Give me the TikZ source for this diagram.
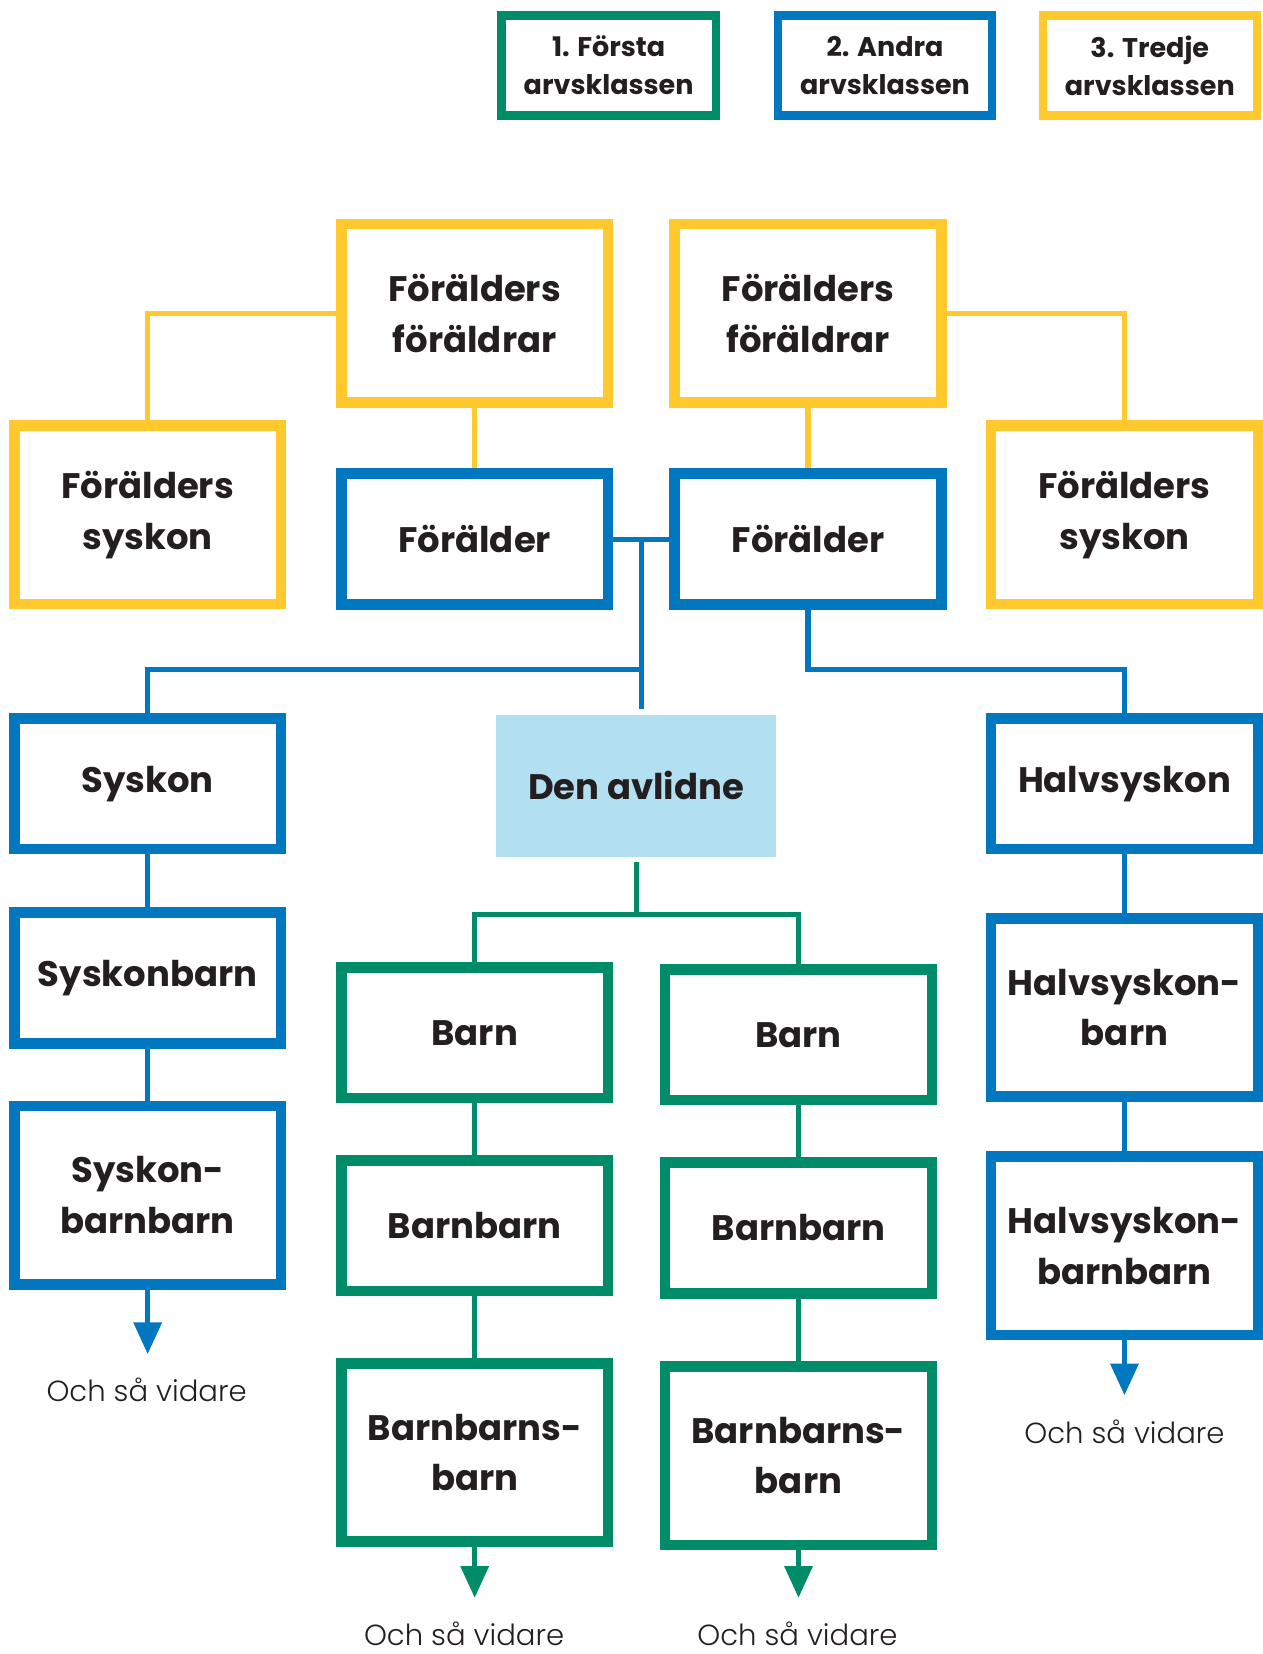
\documentclass[tikz,border=0pt]{standalone}
\usepackage{fontspec}
\setmainfont{Poppins}
\newfontfamily\lightfont{Poppins Light}
\usetikzlibrary{arrows.meta}

\definecolor{arvgreen}{RGB}{0,140,104}
\definecolor{arvblue}{RGB}{0,119,190}
\definecolor{arvyellow}{RGB}{255,200,44}
\definecolor{avlblue}{RGB}{178,224,240}
\definecolor{textdark}{RGB}{35,31,32}

\begin{document}
\begin{tikzpicture}[x=0.5pt,y=-0.5pt]
    \useasboundingbox (0,0) rectangle (1197,1568);
    \tikzstyle{every node}=[rectangle, fill=white, line width=5pt, inner sep=0pt, align=center, text=textdark, font=\fontsize{16.8}{24}\selectfont\bfseries, minimum width=126.5pt, minimum height=62pt]
    \tikzstyle{tall}=[minimum height=84.5pt]
    \tikzstyle{legend}=[line width=4pt, minimum width=101.5pt, minimum height=47.5pt, font=\fontsize{12.8}{18}\selectfont\bfseries]
    \tikzstyle{etc}=[draw=none, fill=none, minimum width=0pt, minimum height=0pt, font=\lightfont\fontsize{13.8}{17}\selectfont]

    % legend
    \node[legend, draw=arvgreen] (first) at (577,62) {1. Första\\arvsklassen};
    \node[legend, draw=arvblue] (second) at (839,62) {2. Andra\\arvsklassen};
    \node[legend, draw=arvyellow] (third) at (1090,62) {3. Tredje\\arvsklassen};

    % third class
    \node[tall, draw=arvyellow] (ffl) at (450,297) {Förälders\\föräldrar};
    \node[tall, draw=arvyellow] (ffr) at (766,297) {Förälders\\föräldrar};
    \node[tall, draw=arvyellow] (fsl) at (140,488) {Förälders\\syskon};
    \node[tall, draw=arvyellow] (fsr) at (1066,488) {Förälders\\syskon};

    % second class
    \node[draw=arvblue] (fl) at (450,511) {Förälder};
    \node[draw=arvblue] (fr) at (766,511) {Förälder};
    \node[draw=arvblue] (sys) at (140,743) {Syskon};
    \node[draw=arvblue] (sb) at (140,927) {Syskonbarn};
    \node[tall, draw=arvblue] (sbb) at (140,1133) {Syskon-\\barnbarn};
    \node[draw=arvblue] (hs) at (1066,743) {Halvsyskon};
    \node[tall, draw=arvblue] (hsb) at (1066,955) {Halvsyskon-\\barn};
    \node[tall, draw=arvblue] (hsbb) at (1066,1181) {Halvsyskon-\\barnbarn};

    \node[draw=none, fill=avlblue, minimum width=132.5pt, minimum height=67.5pt] (avl) at (603,745) {Den avlidne};

    % first class
    \node[draw=arvgreen] (bl) at (450,979) {Barn};
    \node[draw=arvgreen] (br) at (757,981) {Barn};
    \node[draw=arvgreen] (bbl) at (450,1162) {Barnbarn};
    \node[draw=arvgreen] (bbr) at (757,1164) {Barnbarn};
    \node[tall, draw=arvgreen] (bbbl) at (450,1377) {Barnbarns-\\barn};
    \node[tall, draw=arvgreen] (bbbr) at (757,1380) {Barnbarns-\\barn};

    \node[etc] (etcs) at (139,1318) {Och så vidare};
    \node[etc] (etch) at (1066,1357) {Och så vidare};
    \node[etc] (etcl) at (440,1549) {Och så vidare};
    \node[etc] (etcr) at (756,1549) {Och så vidare};

    \tikzstyle{yline}=[arvyellow, line width=2.5pt]
    \draw[yline] (ffl.west) -| (fsl.north);
    \draw[yline] (ffl.south) -- (fl.north);
    \draw[yline] (ffr.east) -| (fsr.north);
    \draw[yline] (ffr.south) -- (fr.north);

    \tikzstyle{bline}=[arvblue, line width=2.4pt]
    \path (fl.east) -- (fr.west) coordinate[midway] (mid);
    \coordinate (split) at (mid |- 0,635);
    \draw[bline] (fl.east) -- (fr.west);
    \draw[bline] (mid) -- (mid |- avl.north);
    \draw[bline] (split) -| (sys.north);
    \draw[bline] (fr.south) -- ++(0,57) -| (hs.north);
    \draw[bline] (sys.south) -- (sb.north);
    \draw[bline] (sb.south) -- (sbb.north);
    \draw[bline] (hs.south) -- (hsb.north);
    \draw[bline] (hsb.south) -- (hsbb.north);

    \tikzstyle{gline}=[arvgreen, line width=2.4pt]
    \draw[gline] (avl.south) -- ++(0,49) -| (bl.north);
    \draw[gline] (avl.south) -- ++(0,49) -| (br.north);
    \draw[gline] (bl.south) -- (bbl.north);
    \draw[gline] (bbl.south) -- (bbbl.north);
    \draw[gline] (br.south) -- (bbr.north);
    \draw[gline] (bbr.south) -- (bbbr.north);

    \tikzstyle{more}=[-{Triangle[width=13pt,length=15pt]}, shorten >=9pt]
    \draw[bline, more] (sbb.south) -- (sbb.south |- etcs.north);
    \draw[bline, more] (hsbb.south) -- (hsbb.south |- etch.north);
    \draw[gline, more] (bbbl.south) -- (bbbl.south |- etcl.north);
    \draw[gline, more] (bbbr.south) -- (bbbr.south |- etcr.north);
\end{tikzpicture}
\end{document}
